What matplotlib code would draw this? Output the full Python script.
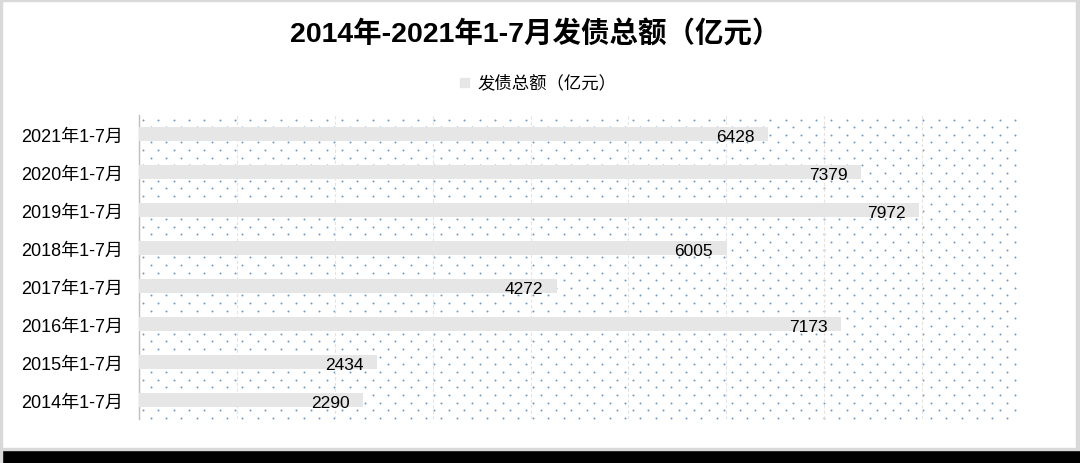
import numpy as np
import matplotlib
matplotlib.use("Agg")
import matplotlib.pyplot as plt
from matplotlib.patches import Rectangle

FONTS = ['Liberation Sans', 'Noto Sans CJK SC', 'DejaVu Sans']
plt.rcParams['font.family'] = FONTS

categories = ["2014年1-7月", "2015年1-7月", "2016年1-7月", "2017年1-7月",
              "2018年1-7月", "2019年1-7月", "2020年1-7月", "2021年1-7月"]
values = [2290, 2434, 7173, 4272, 6005, 7972, 7379, 6428]
series_name = "发债总额（亿元）"
title = "2014年-2021年1-7月发债总额（亿元）"

W, H = 1080, 464
fig = plt.figure(figsize=(W / 100, H / 100), dpi=100)
fig.patch.set_facecolor("white")

# frame decorations
fig.add_artist(Rectangle((0, 0), 1, 13 / H, transform=fig.transFigure, color="black", zorder=10))
fig.add_artist(Rectangle((0, 13 / H), 1, 2 / H, transform=fig.transFigure, color="#d9d9d9", zorder=10))
fig.add_artist(Rectangle((0, 1 - 2 / H), 1, 2 / H, transform=fig.transFigure, color="#d9d9d9", zorder=10))
fig.add_artist(Rectangle((0, 0), 2 / W, 1, transform=fig.transFigure, color="#d9d9d9", zorder=10))
fig.add_artist(Rectangle((1 - 4 / W, 0), 4 / W, 1, transform=fig.transFigure, color="#d9d9d9", zorder=9))

ax_l, ax_r, ax_t, ax_b = 139, 1020, 116, 420
ax = fig.add_axes([ax_l / W, 1 - ax_b / H, (ax_r - ax_l) / W, (ax_b - ax_t) / H])

# dotted background pattern (pixel-based decoration)
aw, ah = ax_r - ax_l, ax_b - ax_t
xs, ys = [], []
row = 0
y = ah - 4.5
while y > 0:
    x0 = 4 if row % 2 == 0 else 4 + 7.65
    x = x0
    while x < aw - 2:
        xs.append(x / aw)
        ys.append(y / ah)
        x += 15.3
    y -= 7.65
    row += 1
ax.scatter(xs, ys, s=2.0, color="#6d99c3", transform=ax.transAxes, zorder=0, linewidths=0)

yy = np.arange(len(categories))
ax.barh(yy, values, height=0.38, color="#e6e6e6", zorder=3)
for yi, v in zip(yy, values):
    ax.annotate(f"{v}", (v, yi), xytext=(-10, -1.5), textcoords="offset points",
                ha="right", va="center", fontsize=12.5, color="black", zorder=4)

ax.set_xlim(0, 9000)
ax.set_ylim(-0.5, len(categories) - 0.5)
ax.set_xticks(np.arange(0, 9001, 1000))
ax.xaxis.grid(True, color="#e3e3e3", linestyle=(0, (3, 2)), linewidth=0.8, zorder=1)
ax.set_axisbelow(True)
ax.tick_params(axis="x", bottom=False, labelbottom=False)
ax.tick_params(axis="y", left=False, labelsize=13, pad=8)
ax.set_yticks(yy)
ax.set_yticklabels(categories)
for s in ["top", "right", "bottom"]:
    ax.spines[s].set_visible(False)
ax.spines["left"].set_color("#bfbfbf")
ax.spines["left"].set_linewidth(1)
ax.set_facecolor("none")

fig.text(535 / W, 1 - 35 / H, title, ha="center", va="center", fontsize=20.5, fontweight="bold")

# legend
fig.add_artist(Rectangle((460 / W, 1 - 88 / H), 9 / W, 9 / H, transform=fig.transFigure,
                         color="#e6e6e6"))
fig.text(477 / W, 1 - 83 / H, series_name, ha="left", va="center", fontsize=12.5)

fig.savefig("out.png", dpi=100)
